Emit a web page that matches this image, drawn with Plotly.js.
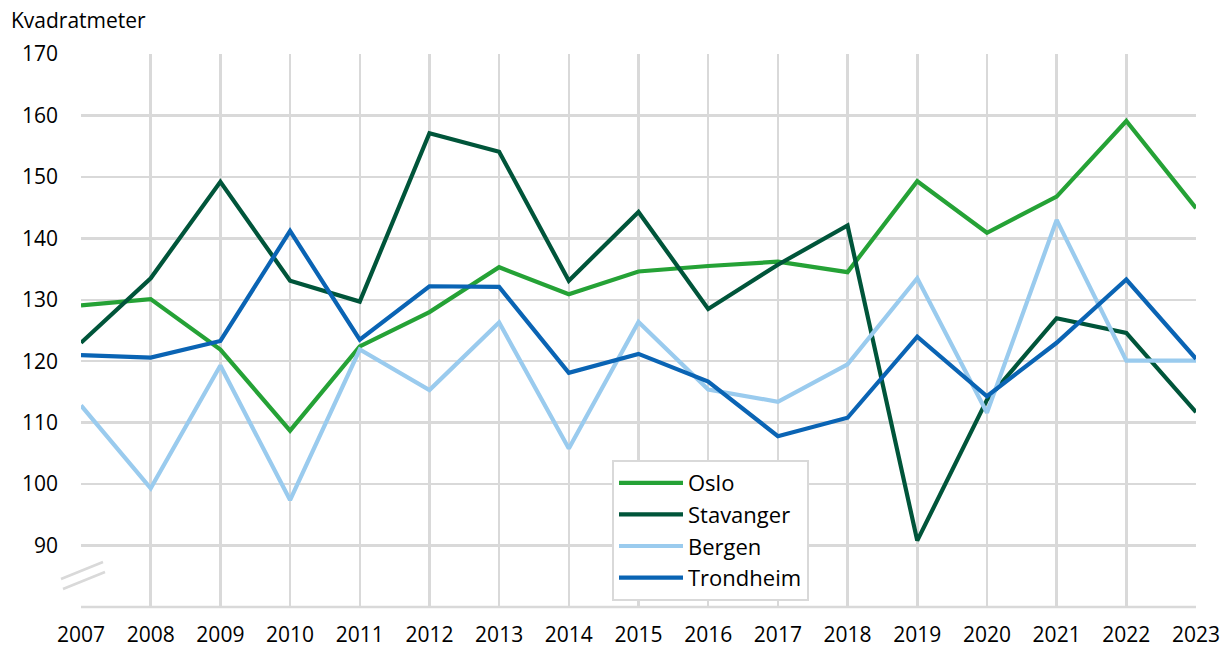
<!DOCTYPE html>
<html>
<head>
<meta charset="utf-8">
<script src="https://cdn.plot.ly/plotly-3.0.1.min.js"></script>
<style>html,body{margin:0;padding:0;background:#fff;}#chart{width:1224px;height:648px;}</style>
</head>
<body>
<div id="chart"></div>
<script>
const years = [2007,2008,2009,2010,2011,2012,2013,2014,2015,2016,2017,2018,2019,2020,2021,2022,2023];
const oslo      = [129.1,130.1,121.9,108.7,122.4,128.0,135.3,130.9,134.6,135.5,136.2,134.5,149.3,140.9,146.8,159.1,144.9];
const stavanger = [123.0,133.5,149.2,133.1,129.7,157.1,154.1,133.1,144.3,128.5,135.7,142.1,90.8,113.7,127.0,124.6,111.7];
const bergen    = [112.8,99.3,119.3,97.4,121.9,115.3,126.3,105.8,126.4,115.4,113.4,119.5,133.5,111.6,143.0,120.1,120.1];
const trondheim = [121.0,120.6,123.3,141.2,123.5,132.2,132.1,118.1,121.2,116.7,107.8,110.8,124.0,114.3,123.0,133.3,120.4];
const seriesNames = ['Oslo','Stavanger','Bergen','Trondheim'];
const seriesColors = ['#25a236','#00553a','#9acbee','#0a64b4'];
const yTicks = [90,100,110,120,130,140,150,160,170];

const FONT = 'Open Sans, Noto Sans, sans-serif';
const data = [oslo, stavanger, bergen, trondheim].map((vals, i) => ({
  x: years, y: vals, type: 'scatter', mode: 'lines', name: seriesNames[i],
  legendgroup: 'g' + i,
  line: {color: seriesColors[i], width: 4.2}
}));

// plot area in px
const L = 81, R = 1196, T = 54, B = 607;
const px = v => (v - L) / (R - L);
const py = v => (B - v) / (B - T);

const layout = {
  width: 1224, height: 648,
  margin: {l: L, r: 1224 - R, t: T, b: 648 - B, pad: 0},
  paper_bgcolor: '#fff', plot_bgcolor: '#fff',
  font: {family: FONT, size: 21, color: '#000'},
  title: {text: 'Kvadratmeter', xref: 'container', yref: 'container', x: 11/1224, xanchor: 'left', y: 1 - 21/648, yanchor: 'middle', font: {family: FONT, size: 21, color: '#000'}},
  showlegend: true,
  legend: {x: px(612), y: py(460), xanchor: 'left', yanchor: 'top', bgcolor: '#fff', bordercolor: '#d9d9d9', borderwidth: 2,
           font: {family: FONT, size: 22, color: '#000'}, tracegroupgap: 11, itemwidth: 64, traceorder: 'normal'},
  xaxis: {range: [2007, 2023], tickvals: years, ticktext: years.map(String), showgrid: true, gridcolor: '#d9d9d9', gridwidth: 2.5,
          zeroline: false, showline: false, ticks: '', ticklabelstandoff: 13, tickfont: {family: FONT, size: 21}},
  yaxis: {range: [80, 170], tickvals: yTicks, ticktext: yTicks.map(String), showgrid: true, gridcolor: '#d9d9d9', gridwidth: 2.5,
          zeroline: false, showline: false, ticks: '', ticklabelstandoff: 22, tickfont: {family: FONT, size: 21}},
  shapes: [
    {type: 'line', xref: 'paper', yref: 'paper', x0: 0, x1: 1, y0: 0, y1: 0, line: {color: '#d9d9d9', width: 2.5}, layer: 'below'},
    {type: 'line', xref: 'paper', yref: 'paper', x0: px(61), y0: py(579), x1: px(103), y1: py(562), line: {color: '#d9d9d9', width: 2.5}},
    {type: 'line', xref: 'paper', yref: 'paper', x0: px(63), y0: py(589), x1: px(105), y1: py(572), line: {color: '#d9d9d9', width: 2.5}}
  ]
};

Plotly.newPlot('chart', data, layout, {displayModeBar: false, staticPlot: true});
</script>
</body>
</html>
